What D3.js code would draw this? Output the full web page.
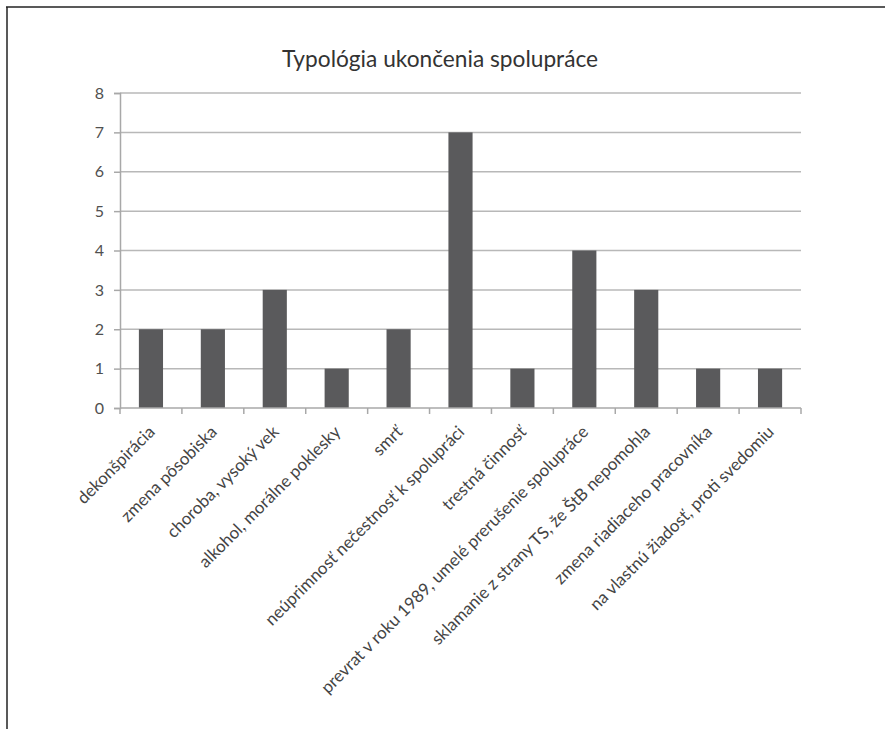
<!DOCTYPE html>
<html>
<head>
<meta charset="utf-8">
<script src="https://cdn.jsdelivr.net/npm/d3@7"></script>
<style>
  html, body { margin: 0; padding: 0; background: #fff; }
  svg { display: block; }
</style>
</head>
<body>
<svg id="chart" width="885" height="729"></svg>
<script>
const title = "Typológia ukončenia spolupráce";
const categories = [
  "dekonšpirácia",
  "zmena pôsobiska",
  "choroba, vysoký vek",
  "alkohol, morálne poklesky",
  "smrť",
  "neúprimnosť nečestnosť k spolupráci",
  "trestná činnosť",
  "prevrat v roku 1989, umelé prerušenie spolupráce",
  "sklamanie z strany TS, že ŠtB nepomohla",
  "zmena riadiaceho pracovníka",
  "na vlastnú žiadosť, proti svedomiu"
];
const values = [2, 2, 3, 1, 2, 7, 1, 4, 3, 1, 1];
const yTicks = [0, 1, 2, 3, 4, 5, 6, 7, 8];

const font = "Lato, 'Open Sans', sans-serif";
const svg = d3.select("#chart");

// frame
svg.append("line").attr("x1", 6).attr("x2", 885).attr("y1", 7).attr("y2", 7)
  .attr("stroke", "#222").attr("stroke-width", 1.5);
svg.append("line").attr("x1", 7).attr("x2", 7).attr("y1", 7).attr("y2", 729)
  .attr("stroke", "#222").attr("stroke-width", 1.5);

const mLeft = 120, mRight = 801, mTop = 93, mBottom = 408;
const x = d3.scaleBand().domain(categories).range([mLeft, mRight]).padding(0);
const y = d3.scaleLinear().domain([0, 8]).range([mBottom, mTop]);

// gridlines
svg.append("g").selectAll("line").data(yTicks.filter(d => d > 0)).join("line")
  .attr("x1", mLeft).attr("x2", mRight)
  .attr("y1", d => y(d)).attr("y2", d => y(d))
  .attr("stroke", "#b8b8b8").attr("stroke-width", 1.5);

// bars
const bw = x.bandwidth() * 0.39;
svg.append("g").selectAll("rect").data(values).join("rect")
  .attr("x", (d, i) => x(categories[i]) + (x.bandwidth() - bw) / 2)
  .attr("width", bw)
  .attr("y", d => y(d))
  .attr("height", d => y(0) - y(d))
  .attr("fill", "#5a5a5c");

// y axis
const yAxis = svg.append("g").attr("transform", `translate(${mLeft},0)`)
  .call(d3.axisLeft(y).tickValues(yTicks).tickSize(6).tickPadding(10).tickFormat(d3.format("d")));
yAxis.select(".domain").attr("stroke", "#a8a8a8").attr("stroke-width", 1.5);
yAxis.selectAll(".tick line").attr("stroke", "#a8a8a8").attr("stroke-width", 1.5);
yAxis.selectAll(".tick text").attr("fill", "#505050").attr("font-family", font).attr("font-size", 16);

// x axis (ticks at band boundaries)
const xAxisG = svg.append("g");
xAxisG.append("line").attr("x1", mLeft).attr("x2", mRight).attr("y1", mBottom).attr("y2", mBottom)
  .attr("stroke", "#a8a8a8").attr("stroke-width", 1.5);
const boundaries = categories.map(c => x(c)).concat([mRight]);
xAxisG.selectAll("line.tk").data(boundaries).join("line").attr("class", "tk")
  .attr("x1", d => d).attr("x2", d => d).attr("y1", mBottom).attr("y2", mBottom + 6)
  .attr("stroke", "#a8a8a8").attr("stroke-width", 1.5);

// x labels
svg.append("g").selectAll("text").data(categories).join("text")
  .attr("transform", d => `translate(${x(d) + x.bandwidth() / 2 + 5},${mBottom + 25}) rotate(-45)`)
  .attr("text-anchor", "end")
  .attr("font-family", font).attr("font-size", 17)
  .attr("fill", "#444")
  .text(d => d);

// title
svg.append("text").attr("x", 440).attr("y", 67).attr("text-anchor", "middle")
  .attr("font-family", font).attr("font-size", 22.7).attr("fill", "#333")
  .text(title);
</script>
</body>
</html>
